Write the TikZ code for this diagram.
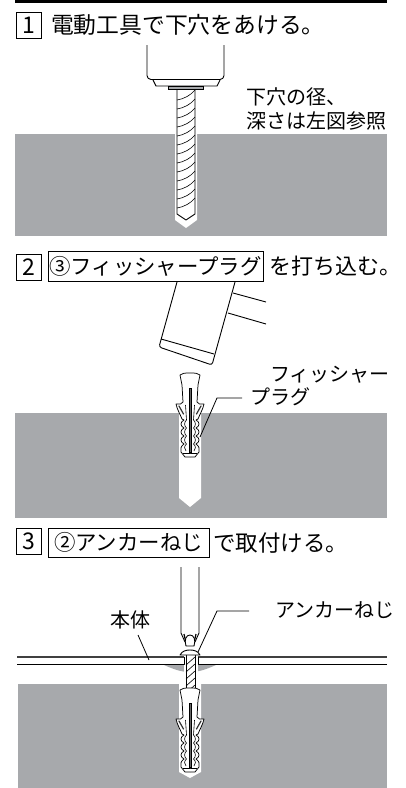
\documentclass[tikz,border=0pt]{standalone}
\usepackage{fontspec}
\setmainfont{Noto Sans CJK JP}
\usetikzlibrary{calc}
\definecolor{wallgray}{RGB}{167,169,172}
\tikzset{
  ln/.style={draw=black,line width=0.9pt,line join=round},
  thin ln/.style={draw=black,line width=0.6pt},
  plugln/.style={draw=black,line width=0.75pt,line join=round},
  wall/.style={fill=wallgray,draw=none},
  lbl/.style={inner sep=0pt,anchor=west,font=\fontsize{20}{22}\selectfont},
  head/.style={inner sep=0pt,anchor=west,font=\fontsize{22.8}{24}\selectfont},
  numbox/.style={draw=black,line width=0.7pt,minimum width=25pt,minimum height=26pt,inner sep=0pt,font=\fontsize{23}{24}\selectfont},
  leader/.style={draw=black,line width=0.8pt},
  pics/plug/.style={code={
    \foreach \s in {1,-1}{
      \begin{scope}[xscale=\s]
        \fill[white] (0,0) .. controls (5,0) and (8,0) .. (10,2) -- (8,12) -- (7,29) -- (9.5,31) -- (14,31) .. controls (13,36) and (10,41) .. (8,46) -- (6,47)
          .. controls (10,49) and (10,53) .. (6,55) .. controls (10,57) and (10,61) .. (6,63) .. controls (10,65) and (10,69) .. (6,71) .. controls (9,73) and (10,76) .. (9,79) -- (5,84) -- (0,84) -- cycle;
        \draw[plugln] (0,0) .. controls (5,0) and (8,0) .. (10,2) -- (8,12) -- (7,29) -- (9.5,31) -- (14,31) .. controls (13,36) and (10,41) .. (8,46) -- (6,47)
          .. controls (10,49) and (10,53) .. (6,55) .. controls (10,57) and (10,61) .. (6,63) .. controls (10,65) and (10,69) .. (6,71) .. controls (9,73) and (10,76) .. (9,79) -- (5,84) -- (0,84);
        \draw[draw=black!80,line width=1.2pt,line cap=round] (6.5,41) -- (11,33);
        \draw[thin ln] (4.5,32) -- (3.5,47) .. controls (6,49) and (6,53) .. (3.5,55) .. controls (6,57) and (6,61) .. (3.5,63) .. controls (6,65) and (6,69) .. (3.5,71) .. controls (6,73) and (6,76) .. (4,78);
        \draw[thin ln] (0,80) -- (7,80);
      \end{scope}
    }
    \fill[black!60,draw=black,line width=0.4pt] (-0.8,15) rectangle (0.8,79);
  }}
}
\begin{document}
\begin{tikzpicture}[x=1pt,y=-1pt]
\useasboundingbox (0,0) rectangle (406,788);
\fill[white] (0,0) rectangle (406,788);
\fill[black] (15,0) rectangle (387,3);

% ---------- step 1
\node[numbox] (n1) at (28.5,25) {1};
\node[head] (t1) at (51,25) {電動工具で下穴をあける。};
\fill[wall] (15,134) rectangle (387,236);
\fill[white] (175,134) -- (197,134) -- (197,220) -- (186,228) -- (175,220) -- cycle;
\draw[ln,rounded corners=4pt] (147,45) -- (147,79.5) -- (224,79.5) -- (224,45);
\draw[ln] (153,80) -- (156,86) -- (217,86) -- (220,80);
\fill[wallgray,draw=black,line width=0.6pt] (168,86) rectangle (203,89);
\draw[ln] (177,89) -- (177,214) -- (186,220) -- (195,214) -- (195,89);
\foreach \yy in {100,109,...,208}{
  \draw[thin ln] (177,\yy) .. controls (184,\yy-1) and (191,\yy-5) .. (195,\yy-10);
}
\node[lbl] (l1a) at (246,97) {下穴の径、};
\node[lbl] (l1b) at (246,121) {深さは左図参照};

% ---------- step 2
\node[numbox] (n2) at (28.5,267) {2};
\node[draw=black,line width=0.7pt,minimum width=215pt,minimum height=30pt,inner sep=0pt,font=\fontsize{21.4}{24}\selectfont] (b2) at (155.5,266) {③フィッシャープラグ};
\node[inner sep=0pt,anchor=west,font=\fontsize{22}{24}\selectfont] (t2) at (269,266) {を打ち込む。};
\fill[wall] (15,413) rectangle (387,518);
\fill[white] (179,413) -- (201,413) -- (201,498) -- (190,507) -- (179,498) -- cycle;
\draw[ln,rounded corners=2.5pt] (177,282) -- (159,347) -- (212,365) -- (235,282);
\draw[ln] (161,339) -- (214,354);
\draw[ln] (233,293) -- (266,302);
\draw[ln] (228,313) -- (266,324);
\pic at (190,373) {plug};
\node[lbl] (l2a) at (270,375) {フィッシャー};
\node[lbl] (l2b) at (250,397) {プラグ};
\coordinate (p2) at (200,437);
\draw[leader] (l2b.west) ++(-8,1) -- (217,398) -- (p2);

% ---------- step 3
\node[numbox] (n3) at (28.5,541) {3};
\node[draw=black,line width=0.7pt,minimum width=161pt,minimum height=29pt,inner sep=0pt,font=\fontsize{21.4}{24}\selectfont] (b3) at (128.5,542.5) {②アンカーねじ};
\node[inner sep=0pt,anchor=west,font=\fontsize{22.5}{24}\selectfont] (t3) at (213,543) {で取付ける。};
\fill[wall] (18,684) rectangle (387,788);
\fill[white] (179,684) -- (201,684) -- (201,772) -- (190,778) -- (179,772) -- cycle;
\fill[wall] (163,664.5) .. controls (175,670) and (182,672) .. (190,672) .. controls (198,672) and (205,670) .. (217,664.5) -- cycle;
\fill[white] (184,664) rectangle (198,690);
\draw[ln] (181,567) -- (181,633) -- (185,642);
\draw[ln] (199,567) -- (199,633) -- (195,642);
\draw[ln,line width=1.2pt] (184,634) -- (186,643);
\draw[ln,line width=1.2pt] (196,634) -- (194,643);
\draw[ln,fill=white] (186,646) .. controls (184,640) and (186,635) .. (190,635) .. controls (194,635) and (196,640) .. (194,646) -- cycle;
\draw[draw=black!75,line width=1.1pt] (17,657) -- (184,657);
\draw[draw=black!75,line width=1.1pt] (198,657) -- (387,657);
\draw[ln] (17,664) -- (184,664) -- (184,657);
\draw[ln] (387,664) -- (198,664) -- (198,657);
\draw[ln] (186,655) -- (186,688);
\draw[ln] (195,655) -- (195,688);
\foreach \yy in {665,672,...,693}{
  \draw[thin ln] (186,\yy) -- (195,\yy-8);
}
\draw[ln,fill=white] (180,655) .. controls (182,651) and (186,650) .. (190,650) .. controls (194,650) and (198,651) .. (200,655) -- cycle;
\pic at (190,688) {plug};
\node[font=\fontsize{20}{22}\selectfont,inner sep=0pt] (l3a) at (130,620) {本体};
\coordinate (p3a) at (149,660);
\draw[leader] (138,635) -- (p3a);
\node[lbl] (l3b) at (275,610) {アンカーねじ};
\coordinate (p3b) at (198,652);
\draw[leader] (l3b.west) ++(-26,1) -- (217,611) -- (p3b);
\end{tikzpicture}
\end{document}
